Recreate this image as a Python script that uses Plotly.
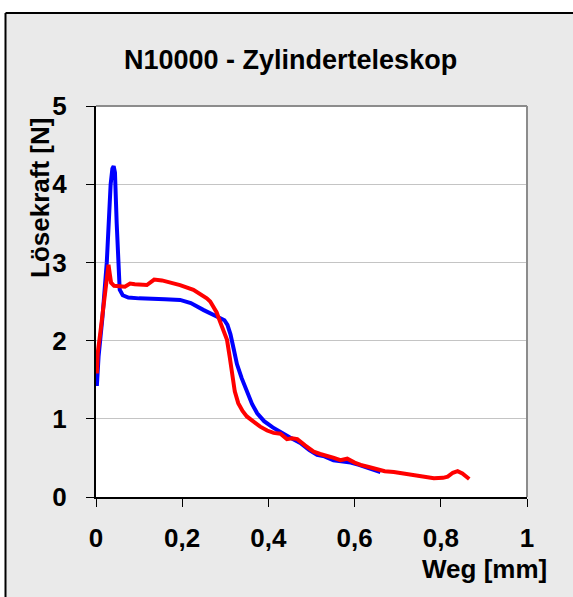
import plotly.graph_objects as go

# ---- data ----
blue_x = [0.002, 0.006, 0.015, 0.025, 0.034, 0.038, 0.041, 0.044, 0.048, 0.051, 0.055,
          0.062, 0.075, 0.10, 0.13, 0.16, 0.195, 0.22, 0.25, 0.28, 0.298, 0.305, 0.312,
          0.320, 0.327, 0.338, 0.350, 0.362, 0.374, 0.390, 0.41, 0.43, 0.45, 0.474,
          0.495, 0.513, 0.53, 0.551, 0.57, 0.591, 0.61, 0.630, 0.645, 0.660]
blue_y = [1.42, 1.80, 2.30, 3.00, 4.00, 4.20, 4.23, 4.15, 3.50, 3.00, 2.65,
          2.58, 2.55, 2.54, 2.54, 2.53, 2.52, 2.48, 2.39, 2.30, 2.26, 2.20, 2.08,
          1.88, 1.70, 1.52, 1.35, 1.19, 1.07, 0.97, 0.89, 0.82, 0.76, 0.69,
          0.60, 0.54, 0.52, 0.47, 0.46, 0.44, 0.41, 0.37, 0.35, 0.32]

red_x = [0.002, 0.004, 0.010, 0.017, 0.024, 0.029, 0.032, 0.035, 0.042, 0.056, 0.067,
         0.079, 0.090, 0.118, 0.126, 0.135, 0.153, 0.175, 0.195, 0.226, 0.242, 0.257,
         0.265, 0.273, 0.280, 0.288, 0.296, 0.304, 0.310, 0.316, 0.322, 0.330, 0.340,
         0.350, 0.365, 0.381, 0.397, 0.412, 0.428, 0.436, 0.443, 0.455, 0.467, 0.485,
         0.505, 0.52, 0.537, 0.552, 0.567, 0.583, 0.60, 0.614, 0.635, 0.653, 0.670,
         0.691, 0.715, 0.738, 0.760, 0.784, 0.805, 0.816, 0.828, 0.839, 0.850, 0.866]
red_y = [1.58, 1.84, 2.10, 2.43, 2.75, 2.97, 2.85, 2.74, 2.70, 2.69, 2.69,
         2.73, 2.72, 2.71, 2.74, 2.78, 2.77, 2.74, 2.71, 2.65, 2.60, 2.54,
         2.50, 2.43, 2.36, 2.24, 2.12, 2.01, 1.80, 1.55, 1.35, 1.20, 1.10,
         1.03, 0.96, 0.90, 0.85, 0.82, 0.81, 0.78, 0.74, 0.75, 0.74, 0.66,
         0.58, 0.55, 0.53, 0.50, 0.47, 0.49, 0.44, 0.41, 0.38, 0.35, 0.33,
         0.32, 0.30, 0.27, 0.25, 0.24, 0.245, 0.26, 0.31, 0.33, 0.30, 0.23]

title_text = "N10000 - Zylinderteleskop"
x_title = "Weg [mm]"
y_title = "Lösekraft [N]"
x_ticks = [0, 0.2, 0.4, 0.6, 0.8, 1]
y_ticks = [0, 1, 2, 3, 4, 5]

# ---- layout geometry (pixels) ----
FW, FH = 573, 597
L, R, T, B = 96, 46, 106, 100
PW, PH = FW - L - R, FH - T - B


def pxx(x):
    return (x - L) / PW


def pxy(y):
    return (T + PH - y) / PH


FONT = "Liberation Sans, Arial, sans-serif"

fig = go.Figure()
fig.add_trace(go.Scatter(x=blue_x, y=blue_y, mode="lines",
                         line=dict(color="#0000FF", width=4), showlegend=False))
fig.add_trace(go.Scatter(x=red_x, y=red_y, mode="lines",
                         line=dict(color="#FF0000", width=4), showlegend=False))

fig.update_layout(
    width=FW, height=FH,
    margin=dict(l=L, r=R, t=T, b=B),
    paper_bgcolor="#EAEAEA",
    plot_bgcolor="white",
    separators=",.",
    font=dict(family=FONT, size=26, color="black", weight="bold"),
    xaxis=dict(range=[0, 1], tickvals=x_ticks, showgrid=False, zeroline=False,
               showline=True, linecolor="black", linewidth=2,
               ticks="outside", ticklen=8, tickwidth=1, tickcolor="black",
               ticklabelstandoff=9,
               tickfont=dict(family=FONT, size=26, weight="bold")),
    yaxis=dict(range=[0, 5], tickvals=y_ticks, showgrid=True, gridcolor="#C4C4C4",
               gridwidth=1, zeroline=False,
               showline=True, linecolor="black", linewidth=2,
               ticks="outside", ticklen=8, tickwidth=1, tickcolor="black",
               ticklabelstandoff=14,
               tickfont=dict(family=FONT, size=26, weight="bold")),
)

shapes = [
    # white strips outside the outer frame
    dict(type="rect", xref="paper", yref="paper", x0=pxx(-10), x1=pxx(5), y0=pxy(-10), y1=pxy(FH + 10),
         fillcolor="white", line=dict(width=0), layer="below"),
    dict(type="rect", xref="paper", yref="paper", x0=pxx(-10), x1=pxx(FW + 10), y0=pxy(13), y1=pxy(-10),
         fillcolor="white", line=dict(width=0), layer="below"),
    # outer frame
    dict(type="line", xref="paper", yref="paper", x0=pxx(5.5), x1=pxx(5.5), y0=pxy(13), y1=pxy(FH + 10),
         line=dict(color="black", width=2)),
    dict(type="line", xref="paper", yref="paper", x0=pxx(5.5), x1=pxx(FW + 10), y0=pxy(13), y1=pxy(13),
         line=dict(color="black", width=2)),
    # plot area top/right border (gray)
    dict(type="line", xref="paper", yref="paper", x0=0, x1=1, y0=1, y1=1,
         line=dict(color="#8C8C8C", width=2)),
    dict(type="line", xref="paper", yref="paper", x0=1, x1=1, y0=0, y1=1,
         line=dict(color="#8C8C8C", width=2)),
]
fig.update_layout(shapes=shapes)

fig.add_annotation(text=title_text, xref="paper", yref="paper", x=pxx(290.5), y=pxy(60),
                   xanchor="center", yanchor="middle", showarrow=False,
                   font=dict(family=FONT, size=27, weight="bold"))
fig.add_annotation(text=y_title, xref="paper", yref="paper", x=pxx(40), y=pxy(198),
                   xanchor="center", yanchor="middle", showarrow=False, textangle=-90,
                   font=dict(family=FONT, size=26, weight="bold"))
fig.add_annotation(text=x_title, xref="paper", yref="paper", x=pxx(549), y=pxy(569),
                   xanchor="right", yanchor="middle", showarrow=False,
                   font=dict(family=FONT, size=26, weight="bold"))

fig.write_html("out.html")
